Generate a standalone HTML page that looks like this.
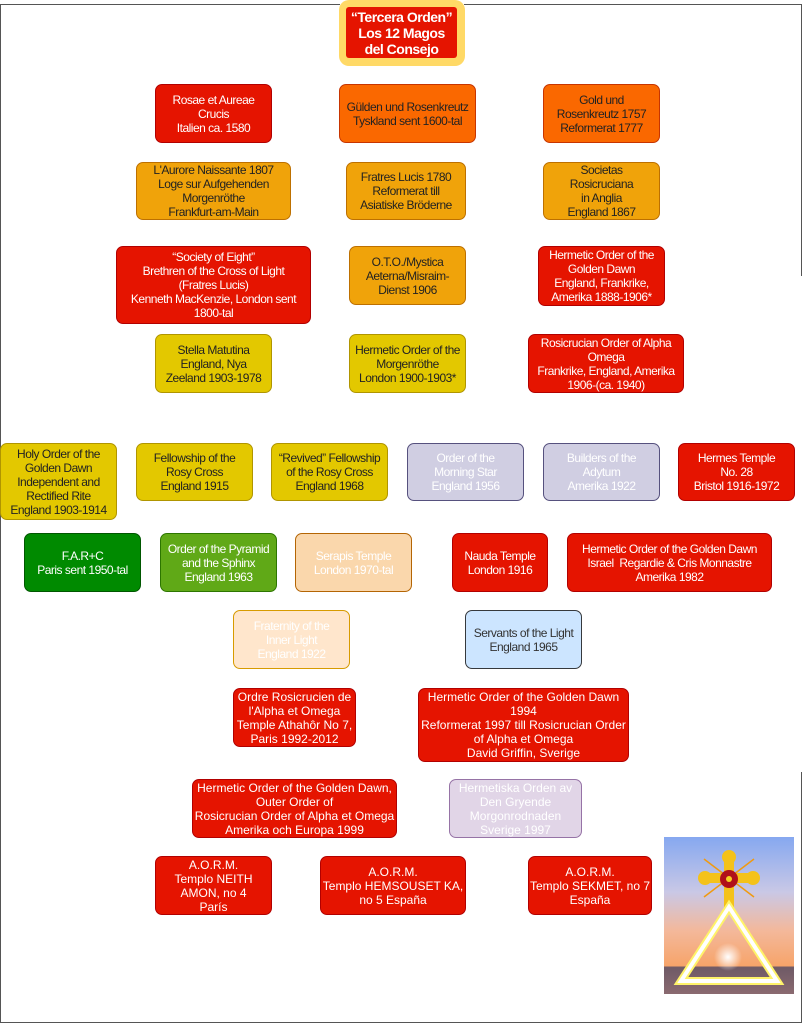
<!DOCTYPE html>
<html><head><meta charset="utf-8"><style>
html,body{margin:0;padding:0;background:#fff;width:811px;height:1024px;overflow:hidden;position:relative;font-family:"Liberation Sans",Arial,sans-serif}
.b{position:absolute;box-sizing:border-box;border-radius:7px;display:flex;align-items:center;justify-content:center;text-align:center;font-size:12px;line-height:14px;padding:0 2px;white-space:nowrap}
.n{letter-spacing:-0.5px}
.r{background:#e51400;border:1px solid #b20000;color:#fff}
.o{background:#fa6800;border:1px solid #c73500;color:#222}
.a{background:#f0a30a;border:1px solid #bd7000;color:#222}
.y{background:#e3c800;border:1px solid #b09500;color:#222}
.l{background:#d0cee2;border:1px solid #56517e;color:#fff}
.line{position:absolute;background:#555}
</style></head><body>
<div class="line" style="left:0;top:4px;width:340px;height:1px"></div>
<div class="line" style="left:464px;top:4px;width:338px;height:1px"></div>
<div class="line" style="left:0;top:4px;width:1px;height:1019px"></div>
<div class="line" style="left:801px;top:4px;width:1px;height:272px"></div>
<div class="line" style="left:801px;top:772px;width:1px;height:251px"></div>
<div class="line" style="left:0;top:1022px;width:802px;height:1px"></div>

<div style="position:absolute;left:339px;top:0;width:126px;height:66px;background:#ffd966;border-radius:10px"></div>
<div class="b n" style="left:346px;top:7px;width:111px;height:51px;background:#e51400;color:#fff;font-weight:bold;font-size:14px;line-height:16px;border-radius:3px">“Tercera Orden”<br>Los 12 Magos<br>del Consejo</div>

<div class="b r n" style="left:155px;top:84px;width:117px;height:59px">Rosae et Aureae<br>Crucis<br>Italien ca. 1580</div>
<div class="b o n" style="left:339px;top:84px;width:137px;height:59px">Gülden und Rosenkreutz<br>Tyskland sent 1600-tal</div>
<div class="b o n" style="left:543px;top:84px;width:117px;height:59px">Gold und<br>Rosenkreutz 1757<br>Reformerat 1777</div>

<div class="b a n" style="left:136px;top:162px;width:155px;height:58px">L'Aurore Naissante 1807<br>Loge sur Aufgehenden<br>Morgenröthe<br>Frankfurt-am-Main</div>
<div class="b a n" style="left:346px;top:162px;width:120px;height:58px">Fratres Lucis 1780<br>Reformerat till<br>Asiatiske Bröderne</div>
<div class="b a n" style="left:543px;top:162px;width:117px;height:58px">Societas<br>Rosicruciana<br>in Anglia<br>England 1867</div>

<div class="b r n" style="left:116px;top:246px;width:195px;height:78px">“Society of Eight”<br>Brethren of the Cross of Light<br>(Fratres Lucis)<br>Kenneth MacKenzie, London sent<br>1800-tal</div>
<div class="b a n" style="left:349px;top:246px;width:117px;height:59px">O.T.O./Mystica<br>Aeterna/Misraim-<br>Dienst 1906</div>
<div class="b r n" style="left:538px;top:246px;width:127px;height:60px">Hermetic Order of the<br>Golden Dawn<br>England, Frankrike,<br>Amerika 1888-1906*</div>

<div class="b y n" style="left:155px;top:334px;width:117px;height:59px">Stella Matutina<br>England, Nya<br>Zeeland 1903-1978</div>
<div class="b y n" style="left:349px;top:334px;width:117px;height:59px">Hermetic Order of the<br>Morgenröthe<br>London 1900-1903*</div>
<div class="b r n" style="left:528px;top:334px;width:156px;height:59px">Rosicrucian Order of Alpha<br>Omega<br>Frankrike, England, Amerika<br>1906-(ca. 1940)</div>

<div class="b y n" style="left:0;top:443px;width:117px;height:77px">Holy Order of the<br>Golden Dawn<br>Independent and<br>Rectified Rite<br>England 1903-1914</div>
<div class="b y n" style="left:136px;top:443px;width:117px;height:58px">Fellowship of the<br>Rosy Cross<br>England 1915</div>
<div class="b y n" style="left:271px;top:443px;width:117px;height:58px">“Revived” Fellowship<br>of the Rosy Cross<br>England 1968</div>
<div class="b l n" style="left:407px;top:443px;width:117px;height:58px">Order of the<br>Morning Star<br>England 1956</div>
<div class="b l n" style="left:543px;top:443px;width:117px;height:58px">Builders of the<br>Adytum<br>Amerika 1922</div>
<div class="b r n" style="left:678px;top:443px;width:117px;height:58px">Hermes Temple<br>No. 28<br>Bristol 1916-1972</div>

<div class="b n" style="left:24px;top:533px;width:117px;height:59px;background:#008a00;border:1px solid #005700;color:#fff">F.A.R+C<br>Paris sent 1950-tal</div>
<div class="b n" style="left:160px;top:533px;width:117px;height:59px;background:#60a917;border:1px solid #2d7600;color:#fff">Order of the Pyramid<br>and the Sphinx<br>England 1963</div>
<div class="b n" style="left:295px;top:533px;width:117px;height:59px;background:#fad7ac;border:1px solid #b46504;color:#fff">Serapis Temple<br>London 1970-tal</div>
<div class="b r n" style="left:452px;top:533px;width:96px;height:59px">Nauda Temple<br>London 1916</div>
<div class="b r n" style="left:567px;top:533px;width:205px;height:59px">Hermetic Order of the Golden Dawn<br>Israel&nbsp; Regardie &amp; Cris Monnastre<br>Amerika 1982</div>

<div class="b n" style="left:233px;top:610px;width:117px;height:59px;background:#ffe6cc;border:1px solid #d79b00;color:#fff">Fraternity of the<br>Inner Light<br>England 1922</div>
<div class="b n" style="left:465px;top:610px;width:117px;height:59px;background:#cce5ff;border:1px solid #36393d;color:#333">Servants of the Light<br>England 1965</div>

<div class="b r" style="left:233px;top:688px;width:123px;height:59px">Ordre Rosicrucien de<br>l'Alpha et Omega<br>Temple Athahôr No 7,<br>Paris 1992-2012</div>
<div class="b r" style="left:418px;top:688px;width:211px;height:74px">Hermetic Order of the Golden Dawn<br>1994<br>Reformerat 1997 till Rosicrucian Order<br>of Alpha et Omega<br>David Griffin, Sverige</div>

<div class="b r" style="left:192px;top:779px;width:205px;height:59px">Hermetic Order of the Golden Dawn,<br>Outer Order of<br>Rosicrucian Order of Alpha et Omega<br>Amerika och Europa 1999</div>
<div class="b" style="left:449px;top:779px;width:133px;height:59px;background:#e1d5e7;border:1px solid #9673a6;color:#fff">Hermetiska Orden av<br>Den Gryende<br>Morgonrodnaden<br>Sverige 1997</div>

<div class="b r" style="left:155px;top:856px;width:117px;height:59px">A.O.R.M.<br>Templo NEITH<br>AMON, no 4<br>París</div>
<div class="b r" style="left:320px;top:856px;width:146px;height:59px">A.O.R.M.<br>Templo HEMSOUSET KA,<br>no 5 España</div>
<div class="b r" style="left:528px;top:856px;width:124px;height:59px">A.O.R.M.<br>Templo SEKMET, no 7<br>España</div>

<svg style="position:absolute;left:664px;top:837px" width="130" height="157" viewBox="0 0 130 157">
<defs>
<linearGradient id="sky" x1="0" y1="0" x2="0" y2="1">
<stop offset="0" stop-color="#86a8f0"/><stop offset="0.35" stop-color="#c9c8e6"/><stop offset="0.6" stop-color="#f4b89a"/><stop offset="0.82" stop-color="#f6a46a"/><stop offset="0.83" stop-color="#6f5a66"/><stop offset="1" stop-color="#8a6a70"/>
</linearGradient>
<radialGradient id="sun" cx="0.5" cy="0.5" r="0.5"><stop offset="0" stop-color="#fff"/><stop offset="1" stop-color="#fff" stop-opacity="0"/></radialGradient>
</defs>
<rect width="130" height="157" fill="url(#sky)"/>
<circle cx="64" cy="120" r="14" fill="url(#sun)"/>
<g stroke="#f09a10" stroke-width="1.5">
<line x1="40" y1="22" x2="90" y2="60"/><line x1="90" y1="22" x2="40" y2="60"/>
</g>
<rect x="60" y="16" width="10" height="56" fill="#f4c21a"/>
<rect x="40" y="36" width="50" height="10" fill="#f4c21a"/>
<circle cx="65" cy="20" r="7" fill="#f4c21a"/>
<circle cx="41" cy="41" r="7" fill="#f4c21a"/>
<circle cx="89" cy="41" r="7" fill="#f4c21a"/>
<circle cx="65" cy="42" r="9" fill="#b0101a"/>
<circle cx="65" cy="42" r="3" fill="#f4d020"/>
<polygon points="65,70 17,144 113,144" fill="none" stroke="#fff36a" stroke-width="8"/>
<polygon points="65,70 17,144 113,144" fill="none" stroke="#fff" stroke-width="4"/>
</svg>
</body></html>
